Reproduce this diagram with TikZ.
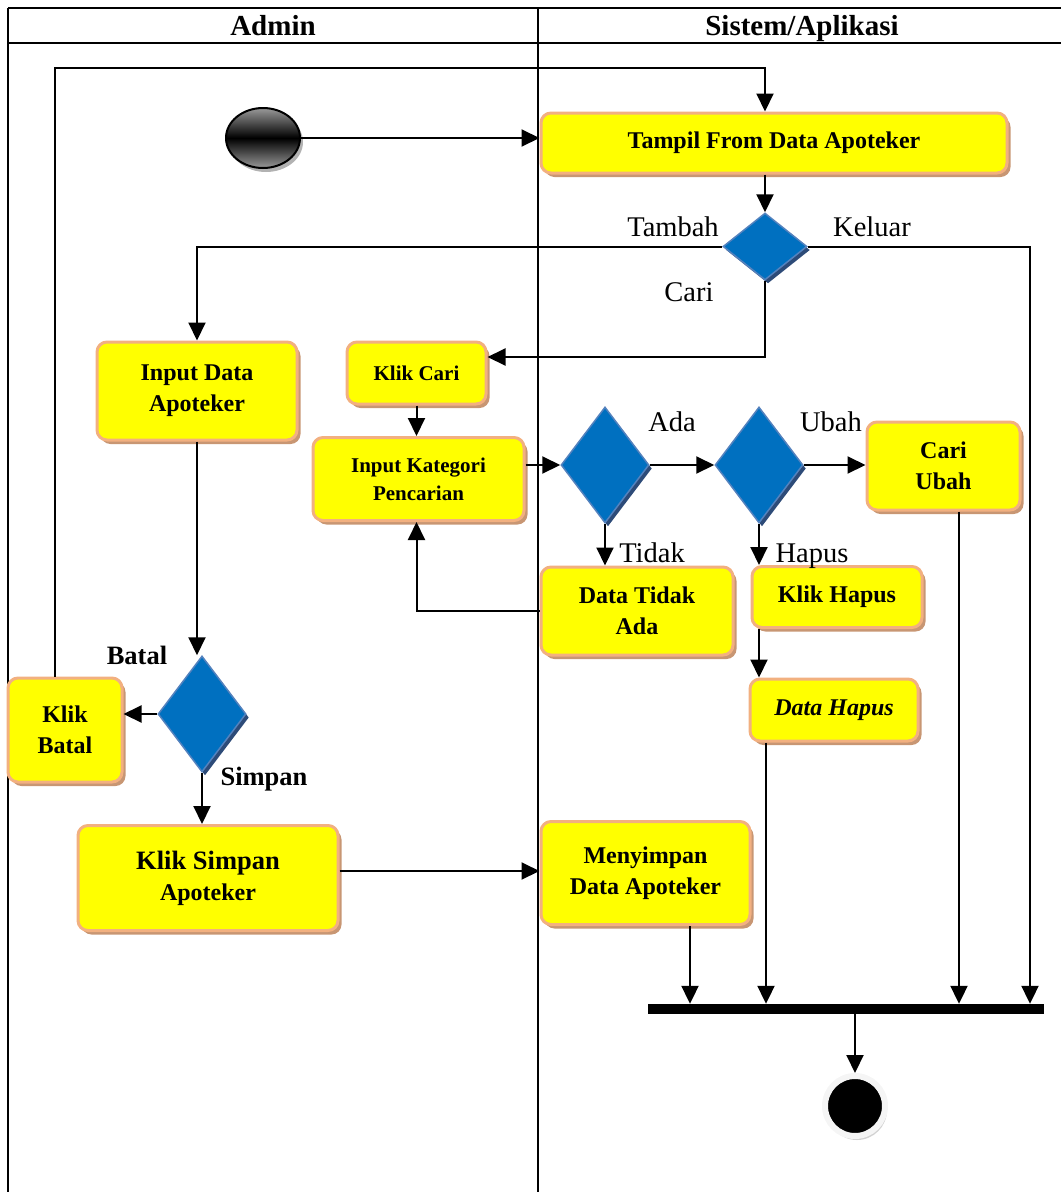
\documentclass[tikz,border=0pt]{standalone}
\usepackage{fontspec}
\setmainfont{Liberation Serif}
\usetikzlibrary{shapes.geometric,shadows,arrows.meta}
\definecolor{boxedge}{RGB}{242,176,128}
\definecolor{boxshadow}{RGB}{200,150,115}
\definecolor{boxfill}{RGB}{255,255,0}
\definecolor{dfill}{RGB}{0,112,192}
\definecolor{dedge}{RGB}{84,130,190}
\definecolor{dshadow}{RGB}{45,75,120}
\tikzset{
  actbox/.style={rectangle, rounded corners=10pt, fill=boxfill, draw=boxedge, line width=3pt,
    drop shadow={shadow xshift=3.5pt,shadow yshift=-4pt,fill=boxshadow,opacity=1},
    align=center, inner sep=0pt, font=\bfseries\fontsize{24}{31}\selectfont},
  smallbox/.style={actbox, font=\bfseries\fontsize{21}{28}\selectfont},
  decision/.style={diamond, fill=dfill, draw=dedge, line width=1.5pt, inner sep=0pt,
    drop shadow={shadow xshift=3pt,shadow yshift=-3.5pt,fill=dshadow,opacity=1}},
  guard/.style={font=\fontsize{28.5}{34}\selectfont, inner sep=0pt, anchor=base},
  bguard/.style={font=\bfseries\fontsize{26.5}{32}\selectfont, inner sep=0pt, anchor=base},
  head/.style={font=\bfseries\fontsize{29}{34}\selectfont, inner sep=0pt, anchor=base},
  lane/.style={line width=2pt},
  arr/.style={line width=2pt, -{Triangle[length=18pt,width=17pt]}},
}
\begin{document}
\begin{tikzpicture}[x=1pt,y=-1pt]
\useasboundingbox (0,0) rectangle (1061,1192);
% swimlanes
\draw[lane] (8,8) -- (1061,8);
\draw[lane] (8,43) -- (1061,43);
\draw[lane] (8,8) -- (8,1192);
\draw[lane] (538,8) -- (538,1192);
\node[head] (hadmin) at (273,35) {Admin};
\node[head] (hsys) at (802,35) {Sistem/Aplikasi};

% start / end
\node[ellipse, minimum width=74pt, minimum height=60pt, inner sep=0pt, draw=black, line width=2pt,
  top color=gray!80, bottom color=gray!80, middle color=black,
  drop shadow={shadow xshift=3pt, shadow yshift=-4pt, fill=gray!60, opacity=1}] (start) at (263,138) {};
\node[circle, minimum size=60pt, inner sep=0pt, fill=black, draw=gray!8, line width=6pt,
  drop shadow={shadow xshift=2pt, shadow yshift=-4pt, fill=gray!35, opacity=1}] (endn) at (855,1106) {};
\node[rectangle, fill=black, minimum width=396pt, minimum height=10pt, inner sep=0pt] (bar) at (846,1009) {};

% activities
\node[actbox, minimum width=466pt, minimum height=60pt] (tampil) at (774,143) {Tampil From Data Apoteker};
\node[actbox, minimum width=200pt, minimum height=98pt] (inputdata) at (197,391) {Input Data\\Apoteker};
\node[smallbox, minimum width=139pt, minimum height=62pt] (klikcari) at (416.5,373) {Klik Cari};
\node[smallbox, minimum width=211pt, minimum height=83pt] (inputkat) at (418.5,479) {Input Kategori\\Pencarian};
\node[actbox, minimum width=153pt, minimum height=88pt] (cariubah) at (943.5,466) {Cari\\Ubah};
\node[actbox, minimum width=192pt, minimum height=88pt] (datatidak) at (637,611) {Data Tidak\\Ada};
\node[actbox, minimum width=170pt, minimum height=61pt] (klikhapus) at (837,597) {Klik Hapus};
\node[actbox, minimum width=168pt, minimum height=62pt, font=\bfseries\itshape\fontsize{24}{31}\selectfont] (datahapus) at (834,710) {Data Hapus};
\node[actbox, minimum width=114pt, minimum height=104pt] (klikbatal) at (65,730) {Klik\\Batal};
\node[actbox, minimum width=260pt, minimum height=105pt] (kliksimpan) at (208,878) {{\fontsize{26.5}{32}\selectfont Klik Simpan}\\Apoteker};
\node[actbox, minimum width=209pt, minimum height=103pt] (menyimpan) at (645.5,873) {Menyimpan\\Data Apoteker};

% decisions
\node[decision, minimum width=84pt, minimum height=67pt] (d1) at (765,246.5) {};
\node[decision, minimum width=88pt, minimum height=116pt] (d2) at (605,465) {};
\node[decision, minimum width=88pt, minimum height=116pt] (d3) at (759,465) {};
\node[decision, minimum width=88pt, minimum height=116pt] (d4) at (202,714) {};

% guards
\node[guard] (gtambah) at (673,236) {Tambah};
\node[guard] (gkeluar) at (872,236) {Keluar};
\node[guard] (gcari) at (689,301) {Cari};
\node[guard] (gada) at (672,431) {Ada};
\node[guard] (gubah) at (831,431) {Ubah};
\node[guard] (gtidak) at (652,562) {Tidak};
\node[guard] (ghapus) at (812,562) {Hapus};
\node[bguard] (gbatal) at (137,664) {Batal};
\node[bguard] (gsimpan) at (264,785) {Simpan};

% helper coordinates
\coordinate (c1) at (55,68);
\coordinate (c2) at (765,68);
\coordinate (kx) at (1030,0);
\coordinate (ux) at (959,0);
\coordinate (hx) at (766,0);
\coordinate (mx) at (690,0);
\coordinate (cy) at (0,357);
\coordinate (sy) at (0,871);

% connectors
\draw[arr] (start.east) -- (start.east -| tampil.west);
\draw[arr] (klikbatal.north -| c1) -- (c1) -- (c2) -- (c2 |- tampil.north);
\draw[arr] (tampil.south -| d1) -- (d1.north);
\draw[arr] (d1.west) -| (inputdata.north);
\draw[arr] (d1.east) -| (bar.north -| kx);
\draw[arr] (d1.south) |- (klikcari.east |- cy);
\draw[arr] (klikcari.south) -- (klikcari.south |- inputkat.north);
\draw[arr] (inputkat.east |- d2.west) -- (d2.west);
\draw[arr] (d2.east) -- (d3.west);
\draw[arr] (d3.east) -- (d3.east -| cariubah.west);
\draw[arr] (d2.south) -- (d2.south |- datatidak.north);
\draw[arr] (d3.south) -- (d3.south |- klikhapus.north);
\draw[arr] (datatidak.west) -| (klikcari.south |- inputkat.south);
\draw[arr] (d3.south |- klikhapus.south) -- (d3.south |- datahapus.north);
\draw[arr] (datahapus.south -| hx) -- (bar.north -| hx);
\draw[arr] (cariubah.south -| ux) -- (bar.north -| ux);
\draw[arr] (menyimpan.south -| mx) -- (bar.north -| mx);
\draw[arr] (inputdata.south) -- (inputdata.south |- d4.north);
\draw[arr] (d4.west) -- (d4.west -| klikbatal.east);
\draw[arr] (d4.south) -- (d4.south |- kliksimpan.north);
\draw[arr] (kliksimpan.east |- sy) -- (menyimpan.west |- sy);
\draw[arr] (bar.south -| endn) -- (endn.north);
\end{tikzpicture}
\end{document}
